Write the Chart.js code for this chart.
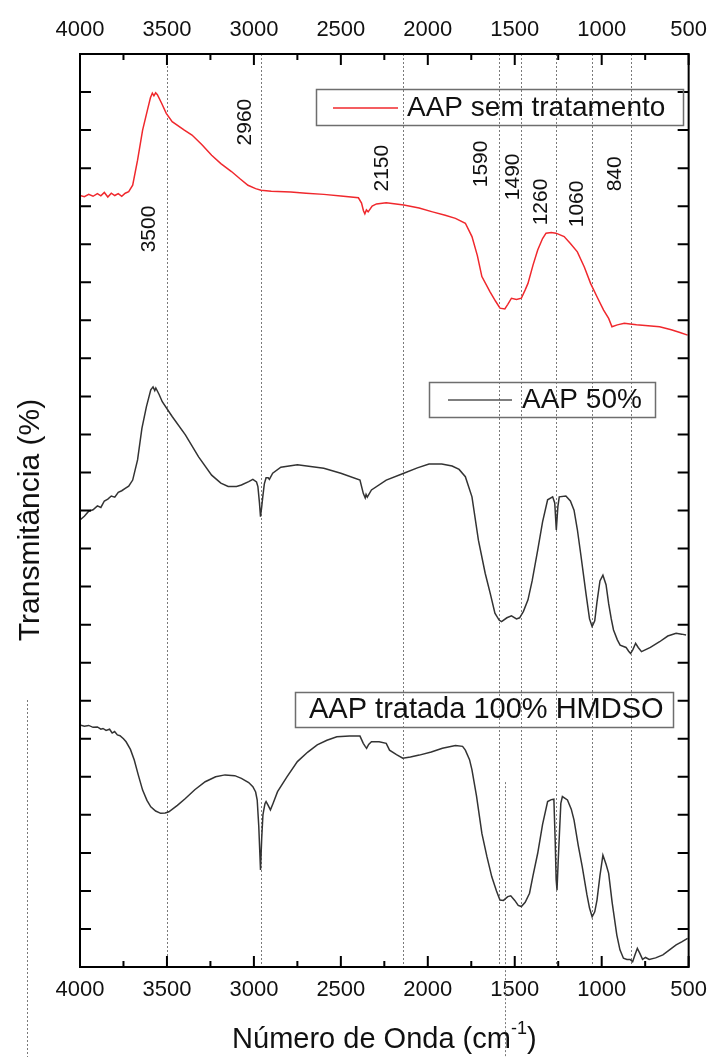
<!DOCTYPE html>
<html>
<head>
<meta charset="utf-8">
<title>FTIR - AAP</title>
<script src="https://cdn.jsdelivr.net/npm/chart.js@4.4.1/dist/chart.umd.min.js"></script>
<style>
  html, body { margin: 0; padding: 0; background: #fff; }
  #wrap { width: 718px; height: 1057px; }
</style>
</head>
<body>
<div id="wrap"><canvas id="ftir" width="718" height="1057"></canvas></div>
<script>
const FONT = '"Liberation Sans", Arial, Helvetica, sans-serif';

// x axis (wavenumber, reversed)
const xTickLabels = [4000, 3500, 3000, 2500, 2000, 1500, 1000, 500];

// AAP sem tratamento (red)
const semWave = [4000, 3975, 3950, 3925, 3900, 3880, 3860, 3840, 3820, 3800, 3780, 3760, 3740, 3720,
  3697, 3669, 3640, 3612, 3595, 3584, 3575, 3565, 3555, 3530, 3504, 3470, 3400, 3356, 3300, 3243,
  3190, 3129, 3080, 3034, 2990, 2959, 2900, 2788, 2700, 2598, 2500, 2399, 2381, 2370, 2362, 2353,
  2343, 2320, 2295, 2239, 2138, 2050, 1973, 1900, 1841, 1784, 1746, 1715, 1689, 1642, 1610, 1585,
  1557, 1540, 1519, 1490, 1462, 1440, 1424, 1395, 1368, 1340, 1320, 1290, 1263, 1216, 1180, 1140,
  1100, 1064, 1025, 989, 960, 941, 910, 870, 837, 800, 750, 667, 600, 550, 506];
const semT = [20.28, 20.25, 20.31, 20.26, 20.33, 20.27, 20.36, 20.24, 20.34, 20.28, 20.33, 20.26, 20.34, 20.38,
  20.55, 21.21, 22.00, 22.53, 22.85, 22.97, 22.90, 22.98, 22.93, 22.70, 22.44, 22.22, 22.00, 21.87, 21.62, 21.34,
  21.12, 20.91, 20.72, 20.55, 20.46, 20.42, 20.39, 20.37, 20.34, 20.31, 20.27, 20.22, 20.08, 19.88, 19.80, 19.90,
  19.85, 20.00, 20.06, 20.09, 20.03, 19.95, 19.85, 19.76, 19.68, 19.55, 19.20, 18.70, 18.15, 17.75, 17.50, 17.32,
  17.30, 17.42, 17.58, 17.55, 17.58, 17.80, 17.97, 18.45, 18.85, 19.15, 19.29, 19.31, 19.29, 19.20, 19.02, 18.80,
  18.40, 17.97, 17.60, 17.27, 17.05, 16.83, 16.88, 16.92, 16.90, 16.88, 16.86, 16.83, 16.75, 16.68, 16.61];

// AAP 50%
const halfWave = [4000, 3975, 3950, 3925, 3900, 3880, 3860, 3840, 3820, 3800, 3780, 3760, 3740, 3720,
  3697, 3669, 3644, 3618, 3593, 3580, 3570, 3564, 3545, 3527, 3470, 3394, 3318, 3243, 3190, 3148,
  3100, 3072, 3030, 3006, 2985, 2977, 2968, 2962, 2955, 2949, 2940, 2930, 2918, 2911, 2892, 2845,
  2750, 2598, 2500, 2390, 2371, 2360, 2355, 2348, 2324, 2239, 2138, 2060, 1993, 1920, 1860, 1820,
  1784, 1746, 1709, 1670, 1640, 1614, 1590, 1576, 1545, 1519, 1490, 1472, 1450, 1424, 1400, 1368,
  1340, 1311, 1282, 1270, 1261, 1252, 1244, 1206, 1180, 1159, 1140, 1121, 1090, 1070, 1055, 1040,
  1027, 1010, 993, 975, 960, 945, 932, 910, 894, 860, 845, 834, 820, 805, 790, 771, 720, 667, 620,
  572, 540, 515];
const halfT = [11.75, 11.85, 11.98, 12.02, 12.12, 12.08, 12.25, 12.30, 12.38, 12.35, 12.48, 12.52, 12.58, 12.64,
  12.80, 13.33, 14.16, 14.73, 15.17, 15.25, 15.15, 15.22, 15.05, 14.86, 14.47, 13.99, 13.41, 12.93, 12.72, 12.63,
  12.63, 12.67, 12.76, 12.82, 12.75, 12.63, 12.20, 11.84, 12.10, 12.36, 12.70, 12.86, 12.86, 12.82, 12.98, 13.14,
  13.20, 13.11, 12.98, 12.80, 12.45, 12.33, 12.42, 12.35, 12.54, 12.80, 12.98, 13.12, 13.22, 13.22, 13.17, 13.08,
  12.89, 12.36, 11.22, 10.35, 9.80, 9.30, 9.12, 9.08, 9.18, 9.23, 9.15, 9.18, 9.35, 9.65, 10.15, 10.96,
  11.70, 12.28, 12.36, 12.20, 11.49, 12.10, 12.36, 12.38, 12.25, 12.01, 11.50, 10.87, 9.80, 9.15, 8.95, 9.10,
  9.60, 10.15, 10.30, 10.05, 9.55, 9.15, 8.86, 8.60, 8.46, 8.40, 8.30, 8.24, 8.35, 8.51, 8.40, 8.29, 8.40, 8.55, 8.70,
  8.77, 8.75, 8.73];

// AAP tratada 100% HMDSO
const hmdsoWave = [4000, 3975, 3950, 3925, 3900, 3880, 3868, 3850, 3830, 3815, 3801, 3785, 3770, 3750,
  3735, 3710, 3688, 3665, 3640, 3615, 3593, 3565, 3536, 3510, 3489, 3440, 3394, 3340, 3280, 3220,
  3166, 3110, 3072, 3030, 3006, 2990, 2981, 2972, 2962, 2955, 2948, 2943, 2936, 2930, 2918, 2905,
  2890, 2864, 2810, 2750, 2690, 2636, 2580, 2523, 2450, 2390, 2371, 2360, 2352, 2340, 2324, 2280,
  2239, 2220, 2180, 2144, 2100, 2049, 1980, 1916, 1841, 1800, 1784, 1760, 1746, 1720, 1689, 1660,
  1632, 1605, 1585, 1565, 1540, 1523, 1500, 1480, 1462, 1440, 1415, 1395, 1368, 1340, 1311, 1290,
  1275, 1267, 1262, 1257, 1250, 1243, 1235, 1226, 1197, 1175, 1159, 1135, 1112, 1085, 1070, 1055,
  1040, 1027, 1010, 993, 975, 960, 940, 913, 895, 875, 855, 837, 822, 810, 795, 780, 765, 748, 727,
  690, 648, 610, 572, 540, 506];
const hmdsoT = [6.36, 6.33, 6.35, 6.30, 6.31, 6.25, 6.27, 6.22, 6.25, 6.15, 6.19, 6.10, 6.08, 6.00,
  5.92, 5.72, 5.44, 5.05, 4.65, 4.38, 4.21, 4.10, 4.04, 4.05, 4.08, 4.25, 4.43, 4.66, 4.87, 5.00,
  5.05, 5.03, 4.96, 4.85, 4.74, 4.60, 4.39, 3.70, 2.55, 3.40, 4.00, 4.13, 4.30, 4.35, 4.25, 4.13,
  4.30, 4.61, 5.00, 5.40, 5.65, 5.84, 5.96, 6.05, 6.07, 6.07, 5.88, 5.80, 5.75, 5.85, 5.92, 5.92,
  5.88, 5.70, 5.58, 5.49, 5.52, 5.57, 5.65, 5.75, 5.82, 5.80, 5.70, 5.45, 5.18, 4.50, 3.51, 2.90,
  2.37, 2.00, 1.76, 1.75, 1.85, 1.87, 1.75, 1.62, 1.59, 1.70, 1.94, 2.40, 2.99, 3.75, 4.35, 4.40,
  4.41, 3.25, 2.30, 2.02, 2.80, 3.51, 4.30, 4.48, 4.39, 4.15, 3.86, 3.20, 2.64, 1.90, 1.55, 1.32,
  1.45, 1.76, 2.40, 2.94, 2.70, 2.46, 1.70, 0.84, 0.45, 0.23, 0.20, 0.20, 0.14, 0.30, 0.49, 0.35, 0.20, 0.25, 0.20,
  0.24, 0.32, 0.45, 0.58, 0.66, 0.75];

// dotted marker lines and their labels
const markerWaves = [3500, 2960, 2140, 1590, 1462, 1260, 1055, 833];
const markerLabels = ['3500', '2960', '2150', '1590', '1490', '1260', '1060', '840'];
const markerLabelWave = [3602, 3051, 2261, 1693, 1511, 1347, 1142, 920];
const markerLabelY = [19.40, 22.21, 21.00, 21.11, 20.77, 20.11, 20.06, 20.85];

const seriesNames = ['AAP sem tratamento', 'AAP 50%', 'AAP tratada 100% HMDSO'];

function toPoints(waves, vals) {
  return waves.map((w, i) => ({ x: w, y: vals[i] }));
}

function segment(ctx, x1, y1, x2, y2) {
  ctx.beginPath();
  ctx.moveTo(x1, y1);
  ctx.lineTo(x2, y2);
  ctx.stroke();
}

const decorations = {
  id: 'decorations',
  beforeDatasetsDraw(chart) {
    const { ctx, chartArea: a, scales: { x, y } } = chart;
    ctx.save();
    ctx.strokeStyle = '#7a7a7a';
    ctx.lineWidth = 1;
    ctx.setLineDash([2, 2]);
    markerWaves.forEach(w => {
      const px = Math.round(x.getPixelForValue(w)) + 0.5;
      segment(ctx, px, a.top, px, a.bottom);
    });
    // stray guide lines in the original figure
    const sx = Math.round(x.getPixelForValue(1555)) + 0.5;
    segment(ctx, sx, y.getPixelForValue(4.86), sx, chart.height);
    segment(ctx, 27.5, 700, 27.5, chart.height);
    ctx.restore();
  },
  afterDraw(chart) {
    const { ctx, chartArea: a, scales: { x, y } } = chart;
    ctx.save();

    // frame
    ctx.strokeStyle = '#000';
    ctx.lineWidth = 2;
    ctx.strokeRect(a.left, a.top, a.right - a.left, a.bottom - a.top);

    // inward tick marks
    ctx.beginPath();
    for (let v = 500; v <= 4000; v += 250) {
      const px = x.getPixelForValue(v);
      const len = v % 500 === 0 ? 11 : 6;
      ctx.moveTo(px, a.bottom); ctx.lineTo(px, a.bottom - len);
      ctx.moveTo(px, a.top); ctx.lineTo(px, a.top + len);
    }
    for (let v = 1; v < 24; v++) {
      const py = y.getPixelForValue(v);
      ctx.moveTo(a.left, py); ctx.lineTo(a.left + 11, py);
      ctx.moveTo(a.right, py); ctx.lineTo(a.right - 11, py);
    }
    ctx.stroke();

    // legend boxes
    ctx.strokeStyle = '#6e6e6e';
    ctx.lineWidth = 1.5;
    ctx.strokeRect(316.5, 89.5, 367, 36);
    ctx.strokeRect(429.5, 382.5, 226, 35);
    ctx.strokeRect(295.5, 692.5, 378, 35);

    ctx.strokeStyle = '#f0282d';
    segment(ctx, 333, 108, 398, 108);
    ctx.strokeStyle = '#555';
    segment(ctx, 448, 400, 512, 400);

    ctx.fillStyle = '#111';
    ctx.textBaseline = 'middle';
    ctx.textAlign = 'left';
    ctx.font = '28px ' + FONT;
    ctx.fillText(seriesNames[0], 407, 108);
    ctx.fillText(seriesNames[1], 522, 400);
    ctx.font = '29px ' + FONT;
    ctx.fillText(seriesNames[2], 309, 710);

    // peak labels (rotated)
    ctx.font = '21px ' + FONT;
    ctx.textAlign = 'center';
    markerLabels.forEach((t, i) => {
      ctx.save();
      ctx.translate(x.getPixelForValue(markerLabelWave[i]), y.getPixelForValue(markerLabelY[i]));
      ctx.rotate(-Math.PI / 2);
      ctx.fillText(t, 0, 0);
      ctx.restore();
    });

    // y title
    ctx.font = '30px ' + FONT;
    ctx.save();
    ctx.translate(31, 520);
    ctx.rotate(-Math.PI / 2);
    ctx.fillText('Transmitância (%)', 0, 0);
    ctx.restore();

    // x title with superscript
    const p1 = 'Número de Onda (cm', sup = '-1', p3 = ')';
    ctx.font = '29px ' + FONT;
    const w1 = ctx.measureText(p1).width, w3 = ctx.measureText(p3).width;
    ctx.font = '18px ' + FONT;
    const w2 = ctx.measureText(sup).width;
    const tx = (a.left + a.right) / 2 - (w1 + w2 + w3) / 2;
    ctx.textAlign = 'left';
    ctx.font = '29px ' + FONT;
    ctx.fillText(p1, tx, 1040);
    ctx.font = '18px ' + FONT;
    ctx.fillText(sup, tx + w1, 1029);
    ctx.font = '29px ' + FONT;
    ctx.fillText(p3, tx + w1 + w2, 1040);

    ctx.restore();
  }
};

const tickOpts = (pad) => ({
  stepSize: 250,
  autoSkip: false,
  maxRotation: 0,
  padding: pad,
  color: '#111',
  font: { family: FONT, size: 22 },
  callback: v => xTickLabels.includes(v) ? String(v) : ''
});

new Chart(document.getElementById('ftir'), {
  type: 'line',
  data: {
    datasets: [
      { label: seriesNames[0], data: toPoints(semWave, semT), borderColor: '#f0282d', borderWidth: 1.5, pointRadius: 0, tension: 0 },
      { label: seriesNames[1], data: toPoints(halfWave, halfT), borderColor: '#333', borderWidth: 1.5, pointRadius: 0, tension: 0 },
      { label: seriesNames[2], data: toPoints(hmdsoWave, hmdsoT), borderColor: '#333', borderWidth: 1.5, pointRadius: 0, tension: 0 }
    ]
  },
  options: {
    responsive: false,
    animation: false,
    layout: { padding: { top: 5.6, bottom: 43.6, left: 80, right: 22 } },
    plugins: { legend: { display: false }, tooltip: { enabled: false } },
    scales: {
      x: {
        type: 'linear', position: 'bottom', min: 500, max: 4000, reverse: true,
        ticks: tickOpts(10),
        grid: { display: false, drawTicks: false },
        border: { display: false }
      },
      x2: {
        type: 'linear', position: 'top', min: 500, max: 4000, reverse: true,
        ticks: tickOpts(11),
        grid: { display: false, drawTicks: false },
        border: { display: false }
      },
      y: { min: 0, max: 24, display: false }
    }
  },
  plugins: [decorations]
});
</script>
</body>
</html>
